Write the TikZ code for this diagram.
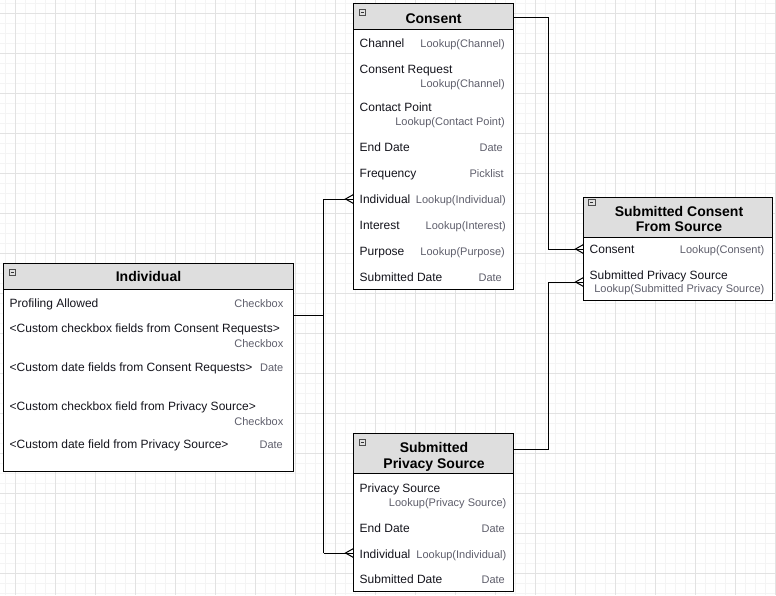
\documentclass[tikz,border=0pt]{standalone}
\usepackage{fontspec}
\setmainfont{Liberation Sans}
\definecolor{namecol}{RGB}{20,20,28}
\definecolor{typecol}{RGB}{95,95,108}
\definecolor{hdrfill}{RGB}{222,222,222}
\definecolor{gridminor}{RGB}{244,244,244}
\definecolor{gridmajor}{RGB}{226,226,226}
\tikzset{
  tblbox/.style={draw=black, line width=1pt, fill=white, inner sep=0, rectangle},
  hdrbox/.style={draw=black, line width=1pt, fill=hdrfill, inner sep=0, rectangle},
  ttl/.style={anchor=base, inner sep=0, text=black, font=\bfseries\fontsize{14}{16}\selectfont},
  fname/.style={anchor=base west, inner sep=0, text=namecol, font=\fontsize{12}{14}\selectfont},
  ftype/.style={anchor=base east, inner sep=0, text=typecol, font=\fontsize{11}{13}\selectfont},
  minusicon/.style={draw=black!70, fill=black!12, line width=0.7pt, inner sep=0,
    minimum size=6.5pt, rectangle,
    path picture={\draw[black!80, line width=0.8pt] ([xshift=1.6pt]path picture bounding box.west) -- ([xshift=-1.6pt]path picture bounding box.east);}},
  conn/.style={draw=black, line width=1pt},
  crowfoot/.pic={\draw[conn] (0,-4.5) -- (-8,0) -- (0,4.5);}
}
\begin{document}
\begin{tikzpicture}[x=1pt, y=-1pt]
\useasboundingbox (0,0) rectangle (776,595);
% background grid
\fill[white] (0,0) rectangle (776,595);
\foreach \gx in {5,15,...,775} \draw[gridminor, line width=0.8pt] (\gx,0) -- (\gx,595);
\foreach \gy in {3,13,...,593} \draw[gridminor, line width=0.8pt] (0,\gy) -- (776,\gy);
\foreach \gx in {15,55,...,775} \draw[gridmajor, line width=0.8pt] (\gx,0) -- (\gx,595);
\foreach \gy in {13,53,...,593} \draw[gridmajor, line width=0.8pt] (0,\gy) -- (776,\gy);

% ---------- Consent ----------
\node[tblbox, minimum width=160pt, minimum height=285.5pt] (consent) at (433.5,146.25) {};
\node[hdrbox, minimum width=160pt, minimum height=26pt] (consent-hdr) at (433.5,16.5) {};
\node[minusicon] (consent-min) at (362.2,12.2) {};
\node[ttl] (consent-ttl) at (433.5,23) {Consent};
\node[fname] (c-chan) at (359.5,47.5) {Channel};
\node[ftype] (c-chan-t) at (505,47.5) {Lookup(Channel)};
\node[fname] (c-req) at (359.5,73) {Consent Request};
\node[ftype] (c-req-t) at (505,87.5) {Lookup(Channel)};
\node[fname] (c-cp) at (359.5,111) {Contact Point};
\node[ftype] (c-cp-t) at (505,125.5) {Lookup(Contact Point)};
\node[fname] (c-end) at (359.5,151.5) {End Date};
\node[ftype] (c-end-t) at (503,151.5) {Date};
\node[fname] (c-freq) at (359.5,177.5) {Frequency};
\node[ftype] (c-freq-t) at (504,177.5) {Picklist};
\node[fname] (c-ind) at (359.5,203.5) {Individual};
\node[ftype] (c-ind-t) at (506,203.5) {Lookup(Individual)};
\node[fname] (c-int) at (359.5,229.5) {Interest};
\node[ftype] (c-int-t) at (506,229.5) {Lookup(Interest)};
\node[fname] (c-pur) at (359.5,255.5) {Purpose};
\node[ftype] (c-pur-t) at (505,255.5) {Lookup(Purpose)};
\node[fname] (c-sub) at (359.5,281.5) {Submitted Date};
\node[ftype] (c-sub-t) at (502,281.5) {Date};

% ---------- Individual ----------
\node[tblbox, minimum width=290pt, minimum height=207.5pt] (indiv) at (148.5,367.25) {};
\node[hdrbox, minimum width=290pt, minimum height=26pt] (indiv-hdr) at (148.5,276.5) {};
\node[minusicon] (indiv-min) at (12.2,272.2) {};
\node[ttl] (indiv-ttl) at (148.5,281.5) {Individual};
\node[fname] (i-prof) at (9.5,307) {Profiling Allowed};
\node[ftype] (i-prof-t) at (283.5,307) {Checkbox};
\node[fname] (i-ccb) at (9.5,332.5) {<Custom checkbox fields from Consent Requests>};
\node[ftype] (i-ccb-t) at (283.5,347) {Checkbox};
\node[fname] (i-cdt) at (9.5,371) {<Custom date fields from Consent Requests>};
\node[ftype] (i-cdt-t) at (283.5,371) {Date};
\node[fname] (i-pcb) at (9.5,410) {<Custom checkbox field from Privacy Source>};
\node[ftype] (i-pcb-t) at (283.5,425) {Checkbox};
\node[fname] (i-pdt) at (9.5,448.5) {<Custom date field from Privacy Source>};
\node[ftype] (i-pdt-t) at (283,448.5) {Date};

% ---------- Submitted Consent From Source ----------
\node[tblbox, minimum width=188.5pt, minimum height=102.5pt] (scfs) at (677.75,248.75) {};
\node[hdrbox, minimum width=188.5pt, minimum height=39.5pt] (scfs-hdr) at (677.75,217.25) {};
\node[minusicon] (scfs-min) at (591.7,202.5) {};
\node[ttl] (scfs-ttl1) at (679,216.5) {Submitted Consent};
\node[ttl] (scfs-ttl2) at (679,231.5) {From Source};
\node[fname] (s-con) at (589.5,253.5) {Consent};
\node[ftype] (s-con-t) at (764.5,253.5) {Lookup(Consent)};
\node[fname] (s-sps) at (589.5,279.5) {Submitted Privacy Source};
\node[ftype] (s-sps-t) at (764.5,292.5) {Lookup(Submitted Privacy Source)};

% ---------- Submitted Privacy Source ----------
\node[tblbox, minimum width=160pt, minimum height=158pt] (sps) at (433.5,512.5) {};
\node[hdrbox, minimum width=160pt, minimum height=40pt] (sps-hdr) at (433.5,453.5) {};
\node[minusicon] (sps-min) at (362.2,442.2) {};
\node[ttl] (sps-ttl1) at (434,452.5) {Submitted};
\node[ttl] (sps-ttl2) at (434,468) {Privacy Source};
\node[fname] (p-src) at (359.5,492) {Privacy Source};
\node[ftype] (p-src-t) at (506.5,506) {Lookup(Privacy Source)};
\node[fname] (p-end) at (359.5,532) {End Date};
\node[ftype] (p-end-t) at (505,532) {Date};
\node[fname] (p-ind) at (359.5,558) {Individual};
\node[ftype] (p-ind-t) at (506.5,558) {Lookup(Individual)};
\node[fname] (p-sub) at (359.5,583.5) {Submitted Date};
\node[ftype] (p-sub-t) at (505,583.5) {Date};

% ---------- connectors ----------
\coordinate (busR) at (548.5,0);
\coordinate (busL) at (323.5,0);
\coordinate (pin-scfs-con) at (583.5,249);
\coordinate (pin-scfs-sps) at (583.5,282);
\coordinate (pin-c-ind) at (353.5,199);
\coordinate (pin-p-ind) at (353.5,553);

% Consent -> Submitted Consent From Source
\draw[conn] (consent-hdr.east |- 0,17.5) -| (busR |- pin-scfs-con) -- (pin-scfs-con);
\pic at (pin-scfs-con) {crowfoot};
% Submitted Privacy Source -> Submitted Consent From Source
\draw[conn] (sps-hdr.east |- 0,449) -| (busR |- pin-scfs-sps) -- (pin-scfs-sps);
\pic at (pin-scfs-sps) {crowfoot};
% Individual -> Consent and Submitted Privacy Source
\draw[conn] (indiv.east |- 0,315.5) -- (busL |- 0,315.5);
\draw[conn] (busL |- pin-c-ind) -- (busL |- pin-p-ind);
\draw[conn] (busL |- pin-c-ind) -- (pin-c-ind);
\draw[conn] (busL |- pin-p-ind) -- (pin-p-ind);
\pic at (pin-c-ind) {crowfoot};
\pic at (pin-p-ind) {crowfoot};
\end{tikzpicture}
\end{document}
